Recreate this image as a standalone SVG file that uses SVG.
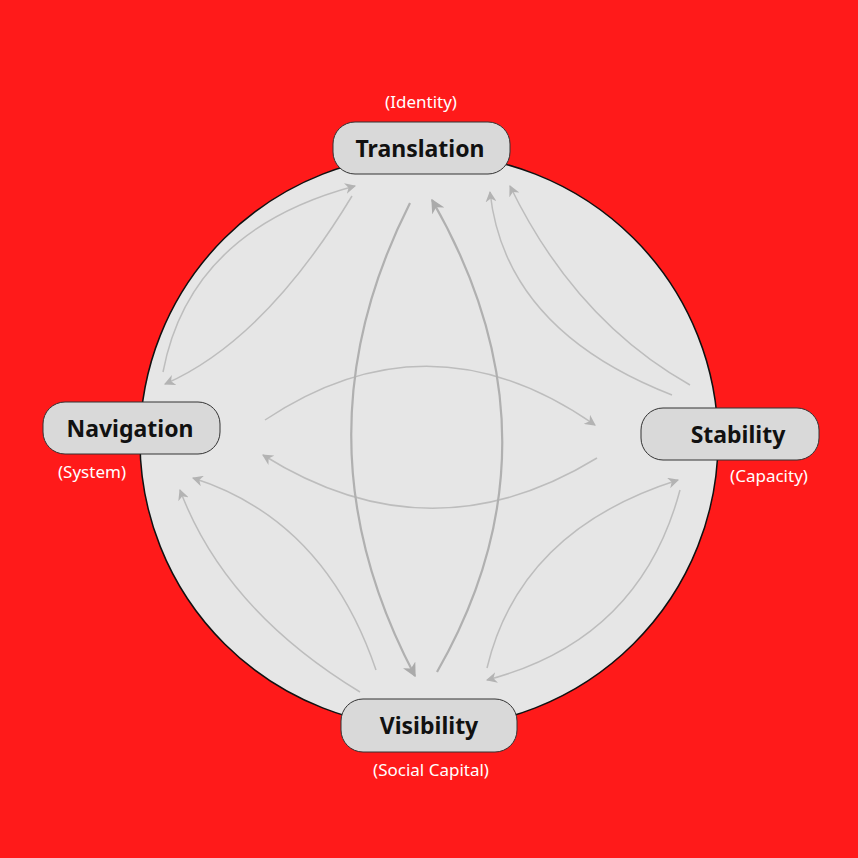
<svg xmlns="http://www.w3.org/2000/svg" width="858" height="858" viewBox="0 0 858 858">
<style>
.node rect{fill:#d9d9d9;stroke:#333;stroke-width:1}
.lbl{font-family:"Noto Sans","Open Sans",sans-serif;font-weight:bold;font-size:23px;fill:#111;text-anchor:middle}
.sub{font-family:"Noto Sans","Open Sans",sans-serif;font-size:17px;fill:#fff;text-anchor:middle}
.c{fill:none;stroke:#bdbdbd;stroke-width:1.5;marker-end:url(#a)}
.t{fill:none;stroke:#b0b0b0;stroke-width:2.2;marker-end:url(#b)}
</style>
<defs>
<marker id="a" viewBox="0 0 10 10" refX="9" refY="5" markerWidth="11" markerHeight="11" markerUnits="userSpaceOnUse" orient="auto"><path d="M0,0L10,5L0,10L3,5Z" fill="#b3b3b3"/></marker>
<marker id="b" viewBox="0 0 10 10" refX="9" refY="5" markerWidth="14" markerHeight="14" markerUnits="userSpaceOnUse" orient="auto"><path d="M0,0L10,5L0,10L3,5Z" fill="#aaaaaa"/></marker>
</defs>
<rect width="858" height="858" fill="#ff1a1a"/>
<ellipse cx="429" cy="441" rx="289" ry="287" fill="#e6e6e6" stroke="#111" stroke-width="1.5"/>
<g id="connectors">
<path class="c" d="M163,372 Q190,230 355,186"/>
<path class="c" d="M352,196 Q265,340 165,384"/>
<path class="c" d="M690,385 Q575,320 510,186"/>
<path class="c" d="M672,395 Q505,330 490,192"/>
<path class="c" d="M265,420 Q430,310 595,425"/>
<path class="c" d="M597,458 Q430,560 263,455"/>
<path class="c" d="M360,692 Q225,610 180,490"/>
<path class="c" d="M376,670 Q325,520 193,478"/>
<path class="c" d="M487,668 Q520,530 678,480"/>
<path class="c" d="M680,490 Q640,640 487,680"/>
<path class="t" d="M410,203 Q290,440 415,676"/>
<path class="t" d="M437,672 Q570,440 432,200"/>
</g>
<g id="translation" class="node"><rect x="333" y="122" width="177" height="52" rx="22"/><text class="lbl" x="420" y="157">Translation</text><text class="sub" x="421" y="108">(Identity)</text></g>
<g id="navigation" class="node"><rect x="43" y="402" width="177" height="52" rx="22"/><text class="lbl" x="130" y="437">Navigation</text><text class="sub" x="92" y="478">(System)</text></g>
<g id="stability" class="node"><rect x="641" y="408" width="178" height="52" rx="22"/><text class="lbl" x="738" y="443">Stability</text><text class="sub" x="769" y="482">(Capacity)</text></g>
<g id="visibility" class="node"><rect x="341" y="699" width="176" height="53" rx="22"/><text class="lbl" x="429" y="734">Visibility</text><text class="sub" x="431" y="776">(Social Capital)</text></g>
</svg>
